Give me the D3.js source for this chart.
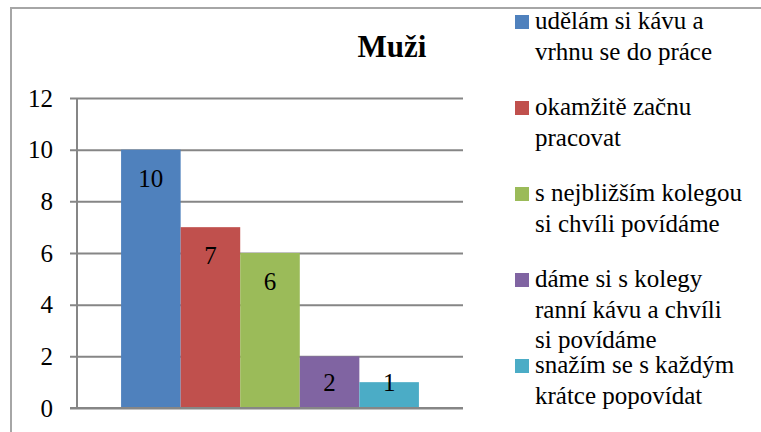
<!DOCTYPE html>
<html>
<head>
<meta charset="utf-8">
<script src="https://cdn.jsdelivr.net/npm/d3@7"></script>
<style>
  body { margin: 0; background: #fff; }
  svg { display: block; }
</style>
</head>
<body>
<svg id="chart" width="761" height="432"></svg>
<script>
const title = "Muži";
const category = ["Muži"];
const series = [
  "udělám si kávu a\nvrhnu se do práce",
  "okamžitě začnu\npracovat",
  "s nejbližším kolegou\nsi chvíli povídáme",
  "dáme si s kolegy\nranní kávu a chvíli\nsi povídáme",
  "snažím se s každým\nkrátce popovídat"
];
const values = [10, 7, 6, 2, 1];
const colors = ["#4F81BD", "#C0504D", "#9BBB59", "#8064A2", "#4BACC6"];
const yTicks = [0, 2, 4, 6, 8, 10, 12];

const FONT = "'Times New Roman', 'Liberation Serif', Tinos, 'DejaVu Serif', serif";

const svg = d3.select("#chart")
  .style("font-family", FONT);

// outer frame (runs off the right/bottom edge)
svg.append("rect")
  .attr("x", 11).attr("y", 8)
  .attr("width", 800).attr("height", 460)
  .attr("fill", "none")
  .attr("stroke", "#a6a6a6")
  .attr("stroke-width", 2);

const plot = { left: 77, right: 463, top: 98, bottom: 408 };

const y = d3.scaleLinear().domain([0, 12]).range([plot.bottom, plot.top]);

const x0 = d3.scaleBand()
  .domain(category)
  .range([plot.left, plot.right])
  .paddingInner(0)
  .paddingOuter(0.148);

const x1 = d3.scaleBand()
  .domain(d3.range(series.length))
  .range([0, x0.bandwidth()]);

// gridlines + tick marks
const yAxis = d3.axisLeft(y)
  .tickValues(yTicks)
  .tickSize(-(plot.right - plot.left))
  .tickPadding(24)
  .tickSizeOuter(0);

const gy = svg.append("g")
  .attr("transform", `translate(${plot.left},0)`)
  .call(yAxis)
  .attr("font-family", null)
  .attr("font-size", null);
gy.select(".domain").remove();
gy.selectAll(".tick line")
  .attr("x1", -7)
  .attr("stroke", "#868686")
  .attr("stroke-width", 2);
gy.selectAll(".tick text")
  .style("font-family", FONT)
  .style("font-size", "25px")
  .attr("fill", "#000");

// value axis line
svg.append("line")
  .attr("x1", plot.left).attr("x2", plot.left)
  .attr("y1", plot.top).attr("y2", plot.bottom)
  .attr("stroke", "#868686")
  .attr("stroke-width", 2);

// bars
const g = svg.append("g").attr("transform", `translate(${x0(category[0])},0)`);
g.selectAll("rect.bar")
  .data(values)
  .join("rect")
  .attr("class", "bar")
  .attr("x", (d, i) => x1(i))
  .attr("width", x1.bandwidth())
  .attr("y", d => y(d))
  .attr("height", d => y(0) - y(d))
  .attr("fill", (d, i) => colors[i]);

// category axis line on top of bars
svg.append("line")
  .attr("x1", plot.left - 7).attr("x2", plot.right)
  .attr("y1", y(0)).attr("y2", y(0))
  .attr("stroke", "#868686")
  .attr("stroke-width", 2);

// data labels
g.selectAll("text.lbl")
  .data(values)
  .join("text")
  .attr("class", "lbl")
  .attr("x", (d, i) => x1(i) + x1.bandwidth() / 2)
  .attr("y", d => Math.min(y(d) + 37, y(0) - 17))
  .attr("text-anchor", "middle")
  .style("font-family", FONT)
  .style("font-size", "25px")
  .text(d => d);

// title
svg.append("text")
  .attr("x", 392).attr("y", 57)
  .attr("text-anchor", "middle")
  .style("font-family", FONT)
  .style("font-size", "31px")
  .style("font-weight", "bold")
  .text(title);

// legend
const leg = svg.append("g").attr("transform", "translate(515,15)");
const item = leg.selectAll("g")
  .data(series)
  .join("g")
  .attr("transform", (d, i) => `translate(0,${i * 86})`);
item.append("rect")
  .attr("width", 14).attr("height", 14)
  .attr("fill", (d, i) => colors[i]);
item.append("text")
  .style("font-family", FONT)
  .style("font-size", "25px")
  .selectAll("tspan")
  .data(d => d.split("\n"))
  .join("tspan")
  .attr("x", 20)
  .attr("y", (d, i) => 14 + i * 30.5)
  .text(d => d);
</script>
</body>
</html>
